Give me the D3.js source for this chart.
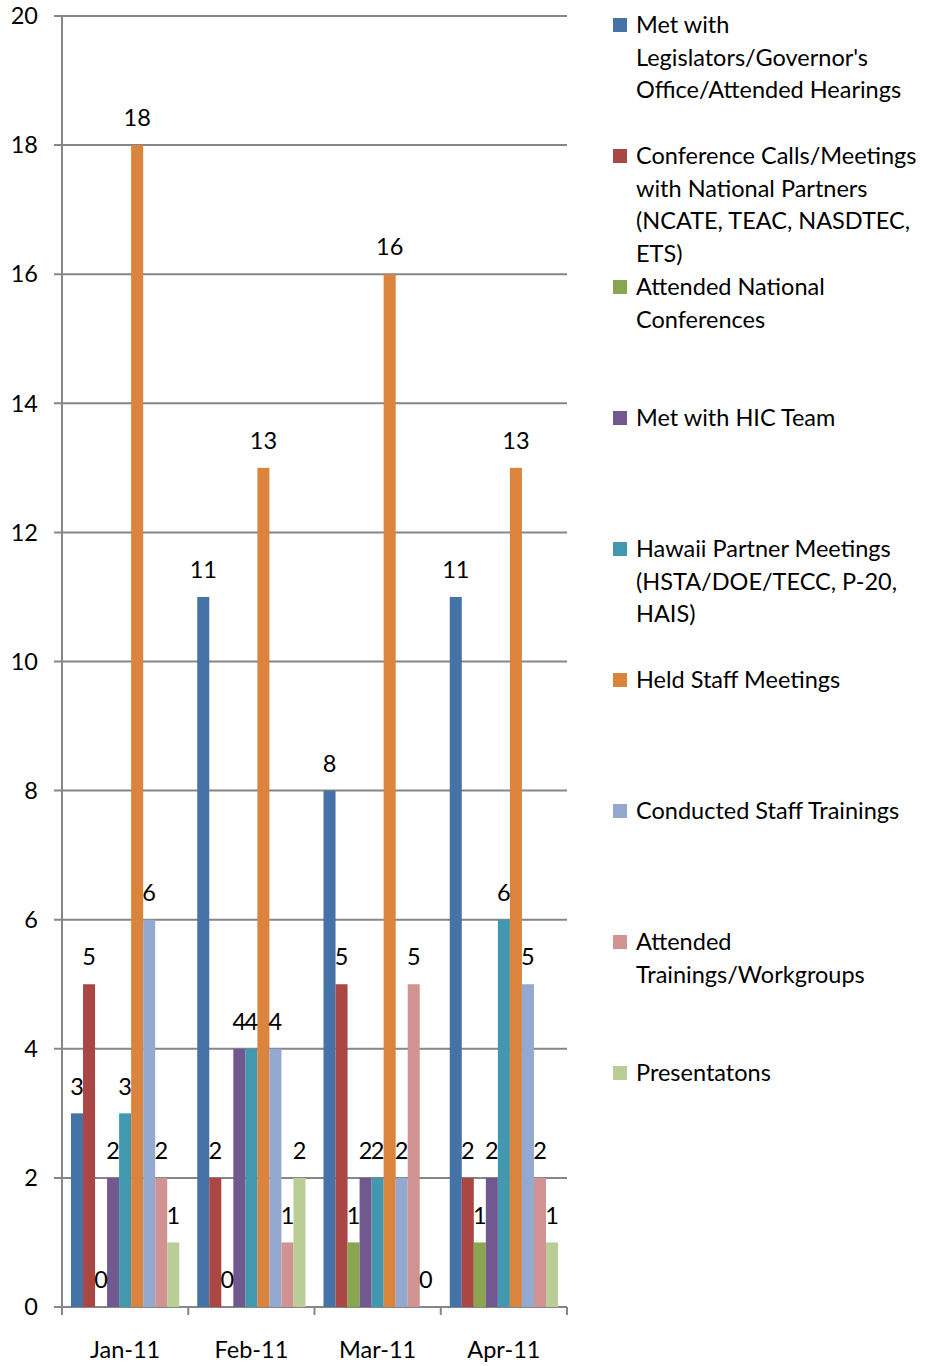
<!DOCTYPE html>
<html>
<head>
<meta charset="utf-8">
<script src="https://cdn.jsdelivr.net/npm/d3@7"></script>
<style>
  body { margin: 0; background: #fff; }
  text { font-family: Lato, "Open Sans", sans-serif; fill: #000; }
</style>
</head>
<body>
<script>
var width = 933;
var height = 1366;

var months = ["Jan-11", "Feb-11", "Mar-11", "Apr-11"];
var seriesNames = [
    "Met with Legislators/Governor's Office/Attended Hearings",
    "Conference Calls/Meetings with National Partners (NCATE, TEAC, NASDTEC, ETS)",
    "Attended National Conferences",
    "Met with HIC Team",
    "Hawaii Partner Meetings (HSTA/DOE/TECC, P-20, HAIS)",
    "Held Staff Meetings",
    "Conducted Staff Trainings",
    "Attended Trainings/Workgroups",
    "Presentatons"
];
// legend text as it wraps in the picture
var legendLines = [
    ["Met with", "Legislators/Governor's", "Office/Attended Hearings"],
    ["Conference Calls/Meetings", "with National Partners", "(NCATE, TEAC, NASDTEC,", "ETS)"],
    ["Attended National", "Conferences"],
    ["Met with HIC Team"],
    ["Hawaii Partner Meetings", "(HSTA/DOE/TECC, P-20,", "HAIS)"],
    ["Held Staff Meetings"],
    ["Conducted Staff Trainings"],
    ["Attended", "Trainings/Workgroups"],
    ["Presentatons"]
];
// values per series, one per month
var metLegislators = [3, 11, 8, 11];
var confCalls = [5, 2, 5, 2];
var nationalConf = [0, 0, 1, 1];
var hicTeam = [2, 4, 2, 2];
var hawaiiPartner = [3, 4, 2, 6];
var staffMeetings = [18, 13, 16, 13];
var staffTrainings = [6, 4, 2, 5];
var attendedTrainings = [2, 1, 5, 2];
var presentations = [1, 2, 0, 1];
var yTicks = [0, 2, 4, 6, 8, 10, 12, 14, 16, 18, 20];

var seriesValues = [metLegislators, confCalls, nationalConf, hicTeam, hawaiiPartner,
    staffMeetings, staffTrainings, attendedTrainings, presentations];
var colors = ["#4572A7", "#AA4643", "#89A54E", "#71588F", "#4198AF",
    "#DB843D", "#93A9CF", "#D19392", "#B9CD96"];

var margin = {top: 16, left: 62},
        plotWidth = 505,
        plotHeight = 1291;
var fontSize = "23.5px";

var svg = d3.select("body").append("svg")
        .attr("width", width)
        .attr("height", height);

var g = svg.append("g")
        .attr("transform", "translate(" + margin.left + "," + margin.top + ")");

var x0 = d3.scaleBand().domain(months).range([0, plotWidth]).paddingInner(0).paddingOuter(0);
var x1 = d3.scaleBand().domain(d3.range(seriesNames.length))
        .range([9, x0.bandwidth() - 9]);
var y = d3.scaleLinear().domain([0, 20]).range([plotHeight, 0]);

var gridColor = "#868686";

// gridlines + y ticks
g.selectAll(".grid").data(yTicks).enter().append("line")
        .attr("x1", -8).attr("x2", plotWidth)
        .attr("y1", function (d) { return y(d); })
        .attr("y2", function (d) { return y(d); })
        .attr("stroke", gridColor).attr("stroke-width", 2);

g.selectAll(".ylab").data(yTicks).enter().append("text")
        .attr("x", -24)
        .attr("y", function (d) { return y(d); })
        .attr("dy", "0.35em")
        .attr("text-anchor", "end")
        .style("font-size", fontSize)
        .text(function (d) { return d; });

// y axis line
g.append("line").attr("x1", 0).attr("x2", 0).attr("y1", 0).attr("y2", plotHeight)
        .attr("stroke", gridColor).attr("stroke-width", 2);

// x ticks
var xTickPos = months.map(function (m) { return x0(m); }).concat([plotWidth]);
g.selectAll(".xtick").data(xTickPos).enter().append("line")
        .attr("x1", function (d) { return d; }).attr("x2", function (d) { return d; })
        .attr("y1", plotHeight).attr("y2", plotHeight + 8)
        .attr("stroke", gridColor).attr("stroke-width", 2);

g.selectAll(".xlab").data(months).enter().append("text")
        .attr("x", function (d) { return x0(d) + x0.bandwidth() / 2; })
        .attr("y", plotHeight + 43)
        .attr("dy", "0.35em")
        .attr("text-anchor", "middle")
        .style("font-size", fontSize)
        .text(function (d) { return d; });

// bars
var cells = [];
seriesValues.forEach(function (vals, s) {
    vals.forEach(function (v, m) {
        cells.push({s: s, month: months[m], value: v});
    });
});

g.selectAll(".bar").data(cells).enter().append("rect")
        .attr("x", function (d) { return x0(d.month) + x1(d.s); })
        .attr("y", function (d) { return y(d.value); })
        .attr("width", x1.bandwidth())
        .attr("height", function (d) { return plotHeight - y(d.value); })
        .attr("fill", function (d) { return colors[d.s]; });

g.selectAll(".vlab").data(cells).enter().append("text")
        .attr("x", function (d) { return x0(d.month) + x1(d.s) + x1.bandwidth() / 2; })
        .attr("y", function (d) { return y(d.value) - 27; })
        .attr("dy", "0.35em")
        .attr("text-anchor", "middle")
        .style("font-size", fontSize)
        .text(function (d) { return d.value; });

// legend
var legend = svg.append("g").attr("transform", "translate(613,25)");
var item = legend.selectAll(".item").data(legendLines).enter().append("g")
        .attr("transform", function (d, i) { return "translate(0," + (i * 131) + ")"; });
item.append("rect")
        .attr("x", 0).attr("y", -7).attr("width", 14).attr("height", 14)
        .attr("fill", function (d, i) { return colors[i]; });
item.append("text")
        .style("font-size", fontSize)
        .selectAll("tspan").data(function (d) { return d; }).enter().append("tspan")
        .attr("x", 23)
        .attr("y", function (d, i) { return i * 32.5; })
        .attr("dy", "0.35em")
        .text(function (d) { return d; });
</script>
</body>
</html>
